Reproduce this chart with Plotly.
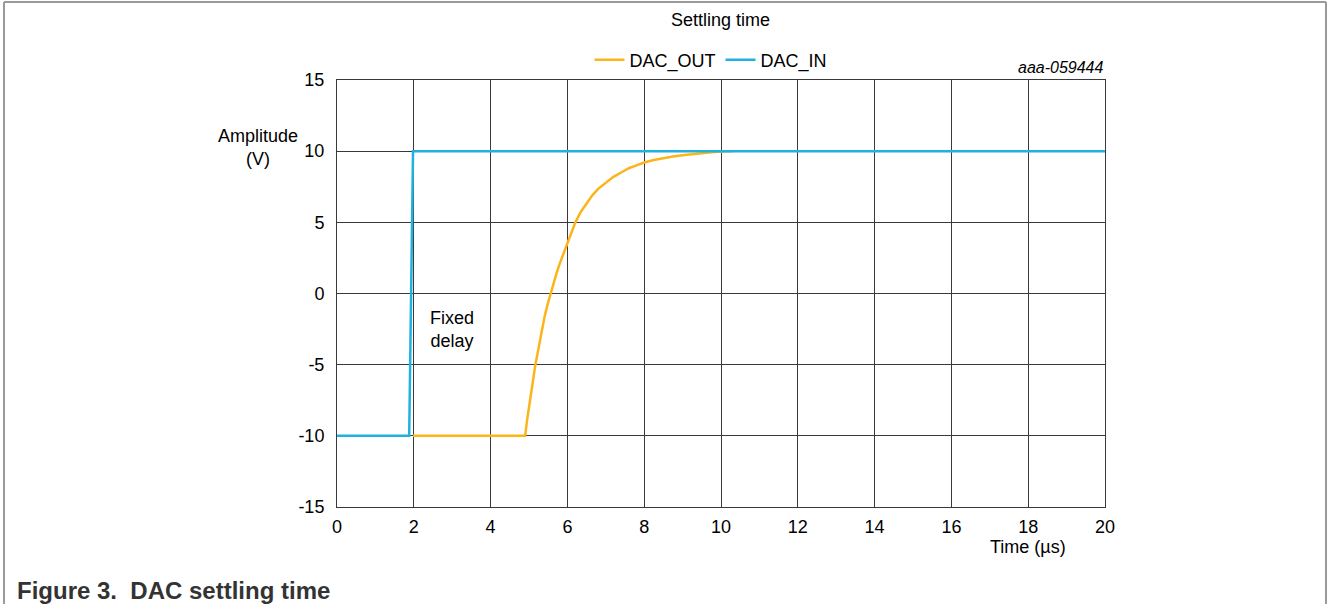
import plotly.graph_objects as go

# DAC input step and the settling output response (time in µs, amplitude in V)
in_time = [0.0, 1.88, 1.98, 20.0]
in_amp = [-10, -10, 10, 10]

out_time = [1.98, 4.90, 4.95, 5.00, 5.05, 5.10, 5.16, 5.22, 5.28, 5.34, 5.40,
            5.48, 5.56, 5.64, 5.72, 5.80, 5.90, 6.00, 6.10, 6.20, 6.35, 6.50,
            6.65, 6.80, 7.00, 7.20, 7.40, 7.60, 7.80, 8.00, 8.25, 8.50, 8.75,
            9.00, 9.25, 9.50, 9.75, 10.0, 10.3]
out_amp = [-10, -10, -8.9, -7.9, -7.0, -6.2, -5.1, -4.2, -3.3, -2.5, -1.7,
           -0.8, 0.0, 0.75, 1.45, 2.1, 2.85, 3.6, 4.3, 4.95, 5.75, 6.35,
           6.9, 7.35, 7.8, 8.2, 8.5, 8.8, 9.0, 9.2, 9.38, 9.52, 9.63,
           9.72, 9.8, 9.87, 9.93, 9.97, 10.0]

x_ticks = [0, 2, 4, 6, 8, 10, 12, 14, 16, 18, 20]
y_ticks = [-15, -10, -5, 0, 5, 10, 15]

FONT = "Liberation Sans, Arial, sans-serif"
GRID = "#3a3a3a"

fig = go.Figure()
fig.add_trace(go.Scatter(x=out_time, y=out_amp, mode="lines", name="DAC_OUT",
                         line=dict(color="#FBB51A", width=2.5)))
fig.add_trace(go.Scatter(x=in_time, y=in_amp, mode="lines", name="DAC_IN",
                         line=dict(color="#1FB1E0", width=2.5)))

# plot area: 337..1105 px horizontally, 80..507 px vertically
L, T, W, H = 337, 80, 768, 427
fig_w, fig_h = 1328, 604

def px(p):
    return (p - L) / W

def py(r):
    return (T + H - r) / H

fig.update_layout(
    width=fig_w, height=fig_h,
    margin=dict(l=L, r=fig_w - L - W, t=T, b=fig_h - T - H),
    paper_bgcolor="white", plot_bgcolor="white",
    font=dict(family=FONT, size=18, color="#000000"),
    showlegend=True,
    legend=dict(orientation="h", x=px(711), xanchor="center", y=py(60), yanchor="middle",
                font=dict(size=18), bgcolor="rgba(0,0,0,0)", itemwidth=30,
                traceorder="normal"),
    xaxis=dict(range=[0, 20], tickvals=x_ticks, ticktext=[str(v) for v in x_ticks],
               showgrid=True, gridcolor=GRID, gridwidth=1, zeroline=False,
               showline=True, linecolor=GRID, linewidth=1, mirror=True,
               ticks="", ticklabelstandoff=3, tickfont=dict(size=18)),
    yaxis=dict(range=[-15, 15], tickvals=y_ticks, ticktext=[str(v) for v in y_ticks],
               showgrid=True, gridcolor=GRID, gridwidth=1, zeroline=False,
               showline=True, linecolor=GRID, linewidth=1, mirror=True,
               ticks="", ticklabelstandoff=8, tickfont=dict(size=18)),
    annotations=[
        dict(text="Settling time", x=px(720), y=py(20), xref="paper", yref="paper",
             showarrow=False, xanchor="center", yanchor="middle", font=dict(size=18)),
        dict(text="<i>aaa-059444</i>", x=px(1106), y=py(68), xref="paper", yref="paper",
             showarrow=False, xanchor="right", yanchor="middle", font=dict(size=16)),
        dict(text="Amplitude<br>(V)", x=px(258), y=py(147), xref="paper", yref="paper",
             showarrow=False, xanchor="center", yanchor="middle", align="center",
             font=dict(size=18)),
        dict(text="Time (µs)", x=px(1028), y=py(547), xref="paper", yref="paper",
             showarrow=False, xanchor="center", yanchor="middle", font=dict(size=18)),
        dict(text="Fixed<br>delay", x=3.0, y=-2.55, xref="x", yref="y",
             showarrow=False, xanchor="center", yanchor="middle", align="center",
             font=dict(size=18)),
        dict(text="<b>Figure 3.  DAC settling time</b>", x=px(15), y=py(590),
             xref="paper", yref="paper", showarrow=False, xanchor="left",
             yanchor="middle", font=dict(size=24, color="#333333")),
    ],
    shapes=[
        # outer frame: top, left and right edges
        dict(type="line", xref="paper", yref="paper", x0=px(4), x1=px(1326),
             y0=py(2), y1=py(2), line=dict(color="#9a9a9a", width=2)),
        dict(type="line", xref="paper", yref="paper", x0=px(4), x1=px(4),
             y0=py(2), y1=py(606), line=dict(color="#9a9a9a", width=2)),
        dict(type="line", xref="paper", yref="paper", x0=px(1326), x1=px(1326),
             y0=py(2), y1=py(606), line=dict(color="#9a9a9a", width=2)),
    ],
)

fig.write_html("out.html")
